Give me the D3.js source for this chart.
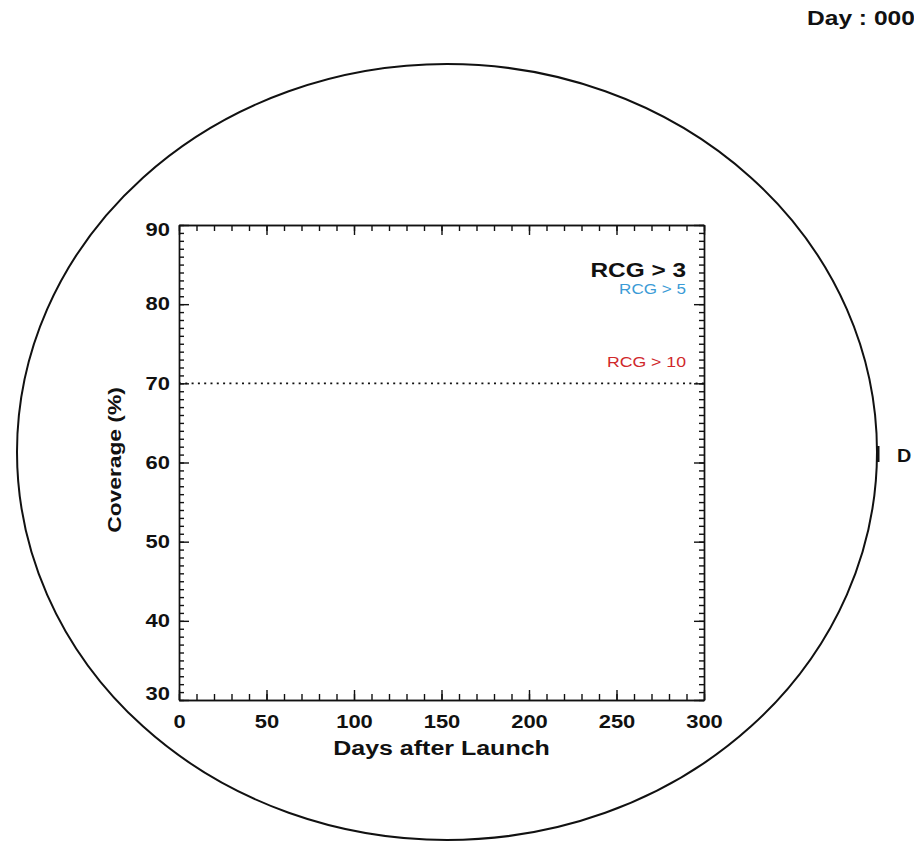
<!DOCTYPE html>
<html>
<head>
<meta charset="utf-8">
<script src="https://cdn.jsdelivr.net/npm/d3@7"></script>
<style>
  body { margin: 0; background: #fff; }
  svg { display: block; }
  text { font-family: "Liberation Sans", Arial, sans-serif; }
</style>
</head>
<body>
<div id="d3-container"></div>
<script>
// chart values
var xTicks = [0, 50, 100, 150, 200, 250, 300];
var yTicks = [30, 40, 50, 60, 70, 80, 90];
var xDomain = [0, 300];
var yDomain = [30, 90];
var targetCoverage = 70;
var legendLabels = ["RCG > 3", "RCG > 5", "RCG > 10"];
var legendColors = ["#111111", "#3b9bd6", "#d0282b"];
var dayLabel = "Day : 000";
var sideLabel = "D";

var W = 914, H = 841;
var margin = {top: 225, left: 179},
    width = 525,
    height = 475;
var stretch = 1.22; // glyphs in the picture are wide

var root = d3.select("#d3-container")
  .append("svg")
    .attr("width", W)
    .attr("height", H);

// big outline
root.append("ellipse")
  .attr("cx", 447)
  .attr("cy", 452)
  .attr("rx", 430)
  .attr("ry", 388)
  .attr("fill", "none")
  .attr("stroke", "#111")
  .attr("stroke-width", 2);

// small mark on the right edge
root.append("line")
  .attr("x1", 878).attr("x2", 878)
  .attr("y1", 446).attr("y2", 462)
  .attr("stroke", "#111")
  .attr("stroke-width", 3);

root.append("text")
  .attr("transform", "translate(897,462) scale(1.1,1)")
  .attr("font-size", 18)
  .attr("font-weight", "bold")
  .attr("fill", "#111")
  .text(sideLabel);

root.append("text")
  .attr("transform", "translate(807,25) scale(1.17,1)")
  .attr("font-size", 21)
  .attr("font-weight", "bold")
  .attr("fill", "#111")
  .text(dayLabel);

var svg = root.append("g")
  .attr("transform", "translate(" + margin.left + "," + margin.top + ")");

var x = d3.scaleLinear().domain(xDomain).range([0, width]);
var y = d3.scaleLinear().domain(yDomain).range([height, 0]);

function styleAxis(g) {
  g.attr("font-family", null).attr("font-size", null);
  g.selectAll("path, line").attr("stroke", "#111").attr("stroke-width", 1.4);
  g.selectAll("text")
    .attr("fill", "#111")
    .attr("font-size", 18)
    .attr("font-weight", "bold")
    .attr("transform", "scale(" + stretch + ",1)");
}

// minor ticks
svg.append("g")
  .call(d3.axisLeft(y).tickValues(y.ticks(60)).tickSizeInner(-5).tickSizeOuter(0).tickFormat(""))
  .call(styleAxis);
svg.append("g")
  .attr("transform", "translate(" + width + ",0)")
  .call(d3.axisRight(y).tickValues(y.ticks(60)).tickSizeInner(-5).tickSizeOuter(0).tickFormat(""))
  .call(styleAxis);
svg.append("g")
  .call(d3.axisTop(x).tickValues(x.ticks(30)).tickSizeInner(-6).tickSizeOuter(0).tickFormat(""))
  .call(styleAxis);
svg.append("g")
  .attr("transform", "translate(0," + height + ")")
  .call(d3.axisBottom(x).tickValues(x.ticks(30)).tickSizeInner(-6).tickSizeOuter(0).tickFormat(""))
  .call(styleAxis);

// major ticks + labels
svg.append("g")
  .attr("class", "myYaxis")
  .call(d3.axisLeft(y).tickValues(yTicks).tickSizeInner(-10).tickSizeOuter(0).tickPadding(7.5))
  .call(styleAxis);
svg.append("g")
  .attr("transform", "translate(" + width + ",0)")
  .call(d3.axisRight(y).tickValues(yTicks).tickSizeInner(-10).tickSizeOuter(0).tickFormat(""))
  .call(styleAxis);
svg.append("g")
  .call(d3.axisTop(x).tickValues(xTicks).tickSizeInner(-10).tickSizeOuter(0).tickFormat(""))
  .call(styleAxis);
svg.append("g")
  .attr("class", "myXaxis")
  .attr("transform", "translate(0," + height + ")")
  .call(d3.axisBottom(x).tickValues(xTicks).tickSizeInner(-10).tickSizeOuter(0).tickPadding(15))
  .call(styleAxis);

// end labels sit a little inside the frame
svg.select(".myYaxis").selectAll(".tick text")
  .attr("dy", function(d) {
    if (d === yDomain[1]) return "0.6em";
    if (d === yDomain[0]) return "-0.05em";
    return "0.32em";
  });

// target line
svg.append("line")
  .attr("x1", x(xDomain[0]))
  .attr("x2", x(xDomain[1]))
  .attr("y1", y(targetCoverage))
  .attr("y2", y(targetCoverage))
  .attr("stroke", "#111")
  .attr("stroke-width", 1.6)
  .attr("stroke-dasharray", "2,4.3");

// axis titles
svg.append("text")
  .attr("transform", "translate(" + (width / 2) + "," + (height + 55) + ") scale(1.25,1)")
  .attr("text-anchor", "middle")
  .attr("font-size", 20)
  .attr("font-weight", "bold")
  .attr("fill", "#111")
  .text("Days after Launch");

svg.append("text")
  .attr("transform", "translate(-58," + (460 - margin.top) + ") rotate(-90) scale(1.2,1)")
  .attr("text-anchor", "middle")
  .attr("font-size", 19)
  .attr("font-weight", "bold")
  .attr("fill", "#111")
  .text("Coverage (%)");

// legend
var legendBase = [52, 69, 142];
var legendSize = [20, 14, 14.5];
svg.selectAll(".legend")
  .data(legendLabels)
  .enter()
  .append("text")
    .attr("class", "legend")
    .attr("transform", function(d, i) {
      return "translate(" + (width - 18) + "," + legendBase[i] + ") scale(" + stretch + ",1)";
    })
    .attr("text-anchor", "end")
    .attr("font-size", function(d, i) { return legendSize[i]; })
    .attr("font-weight", function(d, i) { return i === 0 ? "bold" : "normal"; })
    .attr("fill", function(d, i) { return legendColors[i]; })
    .text(function(d) { return d; });
</script>
</body>
</html>
